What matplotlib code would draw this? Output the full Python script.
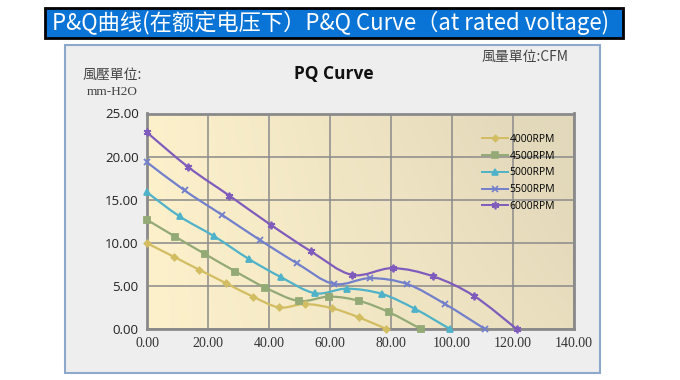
import numpy as np
import matplotlib.pyplot as plt
from matplotlib.path import Path
from matplotlib.patches import PathPatch, Rectangle

plt.rcParams['font.family'] = ['Noto Sans CJK SC', 'DejaVu Sans']

# PQ data (flow CFM, pressure mm-H2O)
rpm_labels = ['4000RPM', '4500RPM', '5000RPM', '5500RPM', '6000RPM']
q_4000 = [0.0, 8.7, 17.2, 26.0, 34.7, 43.4, 51.8, 60.8, 69.4, 78.5]
p_4000 = [9.95, 8.4, 6.86, 5.3, 3.76, 2.5, 2.9, 2.4, 1.36, 0.0]
q_4500 = [0.0, 9.3, 19.0, 29.0, 38.8, 49.7, 59.8, 69.6, 79.4, 89.8]
p_4500 = [12.67, 10.7, 8.7, 6.67, 4.8, 3.26, 3.76, 3.26, 1.94, 0.0]
q_5000 = [0.0, 10.7, 22.1, 33.3, 44.0, 55.1, 65.5, 77.0, 87.9, 99.3]
p_5000 = [15.85, 13.06, 10.74, 8.14, 6.0, 4.15, 4.68, 4.07, 2.33, 0.0]
q_5500 = [0.0, 12.3, 24.5, 36.9, 49.1, 61.2, 73.2, 85.4, 97.7, 110.8]
p_5500 = [19.34, 16.08, 13.26, 10.35, 7.64, 5.23, 5.9, 5.2, 2.9, 0.0]
q_6000 = [0.0, 13.6, 27.0, 40.5, 53.8, 67.2, 80.5, 93.9, 107.2, 121.2]
p_6000 = [22.8, 18.76, 15.47, 12.1, 9.0, 6.28, 7.06, 6.1, 3.84, 0.0]

x_ticks = [0, 20, 40, 60, 80, 100, 120, 140]
y_ticks = [0, 5, 10, 15, 20, 25]

series = [(q_4000, p_4000), (q_4500, p_4500), (q_5000, p_5000),
          (q_5500, p_5500), (q_6000, p_6000)]
colors = ['#d2bd62', '#93aa76', '#4fb2c8', '#7280cc', '#7f5cbc']
markers = ['D', 's', '^', 'x', (6, 2, 0)]
msizes = [3.2, 4.5, 4.5, 4.5, 5.5]


def smooth_path(x, y):
    # Excel-like smoothed line: Catmull-Rom segments as cubic Beziers
    pts = np.column_stack([x, y]).astype(float)
    n = len(pts)
    verts = [pts[0]]
    codes = [Path.MOVETO]
    for i in range(n - 1):
        p0 = pts[i - 1] if i > 0 else pts[i]
        p1 = pts[i]
        p2 = pts[i + 1]
        p3 = pts[i + 2] if i + 2 < n else pts[i + 1]
        verts += [p1 + (p2 - p0) / 6.0, p2 - (p3 - p1) / 6.0, p2]
        codes += [Path.CURVE4] * 3
    return Path(verts, codes)


fig = plt.figure(figsize=(6.8, 3.8), dpi=100)

# title bar
fig.patches.append(Rectangle((45 / 680, 1 - 38 / 380), 578 / 680, 30 / 380,
                             transform=fig.transFigure, facecolor='#0a74d6',
                             edgecolor='black', linewidth=2, zorder=-2))
fig.text(331 / 680, 1 - 23 / 380,
         'P&Q曲线(在额定电压下）P&Q Curve（at rated voltage)',
         color='white', fontsize=16, ha='center', va='center')

# chart panel
fig.patches.append(Rectangle((65 / 680, 1 - 373 / 380), 535 / 680, 328 / 380,
                             transform=fig.transFigure, facecolor='#eeeeee',
                             edgecolor='#8ea8cc', linewidth=1.5, zorder=-2))

ax = fig.add_axes([147 / 680, 51 / 380, 427 / 680, 215.5 / 380])

# plot area gradient (cream at left, tan at lower right)
gx = np.linspace(0, 1, 200)
gy = np.linspace(0, 1, 100)
GX, GY = np.meshgrid(gx, gy)
t = np.clip(0.75 * GX + 0.35 * (1 - GY) * GX, 0, 1)
c0 = np.array([253, 241, 204]) / 255
c1 = np.array([226, 216, 186]) / 255
img = c0[None, None, :] * (1 - t[..., None]) + c1[None, None, :] * t[..., None]
ax.imshow(img, extent=[0, 1, 0, 1], transform=ax.transAxes, aspect='auto',
          origin='upper', zorder=0)

ax.set_xlim(0, 140)
ax.set_ylim(0, 25)
ax.set_xticks(x_ticks)
ax.set_yticks(y_ticks)
ax.set_xticklabels(['%.2f' % v for v in x_ticks], family='Liberation Serif',
                   fontsize=10, color='#333333')
ax.set_yticklabels(['%.2f' % v for v in y_ticks], family='Open Sans',
                   fontsize=9.5, color='#222222')
ax.tick_params(length=0, pad=6)
ax.grid(True, color='#8a8a8a', linewidth=1.1, zorder=1)
ax.set_axisbelow(False)
for s in ax.spines.values():
    s.set_color('#8a8a8a')
    s.set_linewidth(2)

for (q, p), c, m, ms, lab in zip(series, colors, markers, msizes, rpm_labels):
    ax.add_patch(PathPatch(smooth_path(q, p), facecolor='none', edgecolor=c,
                           linewidth=1.6, zorder=3, clip_on=False))
    ax.plot(q, p, linestyle='none', marker=m, markersize=ms, color=c,
            markeredgewidth=1.3, zorder=4, clip_on=False)
    ax.plot([], [], color=c, marker=m, markersize=ms, linewidth=1.4,
            markeredgewidth=1.2, label=lab)

leg = ax.legend(loc='upper left', bbox_to_anchor=((482 - 147) / 427, 1 - (134 - 113.5) / 215.5),
                frameon=False, borderpad=0, borderaxespad=0,
                handlelength=2.5, handletextpad=0.15, labelspacing=0.55,
                prop={'family': 'Open Sans', 'size': 7.5})

fig.text(334 / 680, 1 - 74 / 380, 'PQ Curve', fontsize=12.5, fontweight='bold',
         family='Open Sans', ha='center', va='center', color='#111111')
fig.text(112 / 680, 1 - 75 / 380, '風壓單位:', fontsize=10, color='#444444',
         family=['Noto Sans CJK TC', 'DejaVu Sans'], ha='center', va='center')
fig.text(112 / 680, 1 - 92 / 380, 'mm-H2O', fontsize=9.5, color='#444444',
         family='Liberation Serif', ha='center', va='center')
fig.text(525 / 680, 1 - 57 / 380, '風量單位:CFM', fontsize=10, color='#444444',
         family=['Noto Sans CJK TC', 'DejaVu Sans'], ha='center', va='center')

fig.savefig('out.png', dpi=100)
